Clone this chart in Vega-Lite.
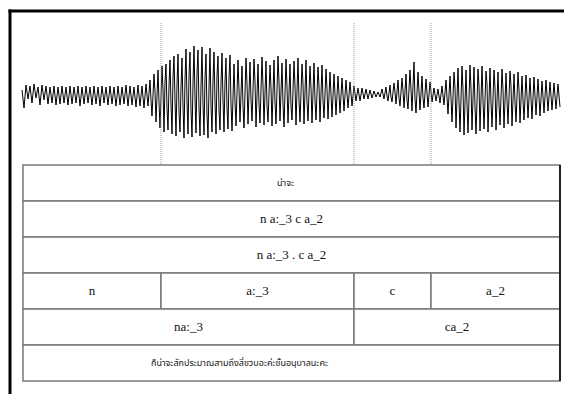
{
  "$schema": "https://vega.github.io/schema/vega-lite/v6.json",
  "width": 564,
  "height": 394,
  "autosize": {"type": "none"},
  "padding": 0,
  "background": "white",
  "config": {"view": {"stroke": null}},
  "datasets": {
    "wave": [
      {"t":-1,"amp":4},{"t":1,"amp":-14},{"t":3,"amp":9},{"t":5,"amp":-5},{"t":7,"amp":8},{"t":9,"amp":-9},{"t":11,"amp":10},{"t":13,"amp":-4},{"t":15,"amp":7},{"t":17,"amp":-11},
      {"t":19,"amp":9},{"t":21,"amp":-6},{"t":23,"amp":8},{"t":25,"amp":-10},{"t":27,"amp":7},{"t":29,"amp":-9},{"t":31,"amp":8},{"t":33,"amp":-11},{"t":35,"amp":7},{"t":37,"amp":-10},
      {"t":39,"amp":8},{"t":41,"amp":-9},{"t":43,"amp":7},{"t":45,"amp":-11},{"t":47,"amp":8},{"t":49,"amp":-10},{"t":51,"amp":7},{"t":53,"amp":-9},{"t":55,"amp":8},{"t":57,"amp":-12},
      {"t":59,"amp":7},{"t":61,"amp":-10},{"t":63,"amp":8},{"t":65,"amp":-9},{"t":67,"amp":7},{"t":69,"amp":-11},{"t":71,"amp":8},{"t":73,"amp":-10},{"t":75,"amp":7},{"t":77,"amp":-12},
      {"t":79,"amp":8},{"t":81,"amp":-9},{"t":83,"amp":7},{"t":85,"amp":-11},{"t":87,"amp":8},{"t":89,"amp":-10},{"t":91,"amp":7},{"t":93,"amp":-12},{"t":95,"amp":8},{"t":97,"amp":-11},
      {"t":99,"amp":7},{"t":101,"amp":-10},{"t":103,"amp":9},{"t":105,"amp":-12},{"t":107,"amp":8},{"t":109,"amp":-11},{"t":111,"amp":7},{"t":113,"amp":-13},{"t":115,"amp":9},{"t":117,"amp":-12},
      {"t":119,"amp":8},{"t":121,"amp":-14},{"t":123,"amp":10},{"t":125,"amp":-12},
      {"t":127,"amp":14},{"t":128,"amp":-6},{"t":129,"amp":-22},{"t":131,"amp":20},{"t":132,"amp":2},{"t":133,"amp":-28},{"t":135,"amp":24},{"t":136,"amp":-8},{"t":137,"amp":-34},
      {"t":139,"amp":28},{"t":140,"amp":4},{"t":141,"amp":-38},{"t":142,"amp":12},{"t":143,"amp":30},{"t":144,"amp":-14},{"t":145,"amp":-36},{"t":146,"amp":8},{"t":147,"amp":34},{"t":148,"amp":-10},{"t":149,"amp":-40},{"t":150,"amp":16},{"t":151,"amp":38},{"t":152,"amp":-6},{"t":153,"amp":-42},{"t":154,"amp":10},{"t":155,"amp":40},{"t":156,"amp":-18},{"t":157,"amp":-38},{"t":158,"amp":6},
      {"t":159,"amp":36},{"t":160,"amp":-12},{"t":161,"amp":-44},{"t":162,"amp":14},{"t":163,"amp":45},{"t":164,"amp":-8},{"t":165,"amp":-40},{"t":166,"amp":18},{"t":167,"amp":42},{"t":168,"amp":-16},{"t":169,"amp":-43},{"t":170,"amp":10},{"t":171,"amp":48},{"t":172,"amp":-4},{"t":173,"amp":-39},{"t":174,"amp":20},{"t":175,"amp":44},{"t":176,"amp":-14},{"t":177,"amp":-42},{"t":178,"amp":8},
      {"t":179,"amp":47},{"t":180,"amp":-10},{"t":181,"amp":-41},{"t":182,"amp":16},{"t":183,"amp":40},{"t":184,"amp":-20},{"t":185,"amp":-44},{"t":186,"amp":6},{"t":187,"amp":46},{"t":188,"amp":-12},{"t":189,"amp":-38},{"t":190,"amp":14},{"t":191,"amp":42},{"t":192,"amp":-8},{"t":193,"amp":-40},{"t":194,"amp":18},{"t":195,"amp":38},{"t":196,"amp":-16},{"t":197,"amp":-36},{"t":198,"amp":10},
      {"t":199,"amp":41},{"t":200,"amp":-6},{"t":201,"amp":-38},{"t":202,"amp":12},{"t":203,"amp":36},{"t":204,"amp":-14},{"t":205,"amp":-35},{"t":206,"amp":16},{"t":207,"amp":39},{"t":208,"amp":-10},{"t":209,"amp":-37},
      {"t":211,"amp":30},{"t":212,"amp":-8},{"t":213,"amp":-32},{"t":215,"amp":34},{"t":216,"amp":4},{"t":217,"amp":-28},{"t":219,"amp":28},{"t":220,"amp":-12},{"t":221,"amp":-34},{"t":223,"amp":36},{"t":224,"amp":10},{"t":225,"amp":-30},{"t":227,"amp":32},{"t":228,"amp":-6},{"t":229,"amp":-27},
      {"t":231,"amp":35},{"t":232,"amp":12},{"t":233,"amp":-33},{"t":235,"amp":30},{"t":236,"amp":-10},{"t":237,"amp":-29},{"t":239,"amp":37},{"t":240,"amp":8},{"t":241,"amp":-31},{"t":243,"amp":33},{"t":244,"amp":-12},{"t":245,"amp":-28},{"t":247,"amp":29},{"t":248,"amp":6},{"t":249,"amp":-32},
      {"t":251,"amp":34},{"t":252,"amp":-8},{"t":253,"amp":-30},{"t":255,"amp":38},{"t":256,"amp":12},{"t":257,"amp":-27},{"t":259,"amp":31},{"t":260,"amp":-10},{"t":261,"amp":-33},{"t":263,"amp":35},{"t":264,"amp":6},{"t":265,"amp":-29},{"t":267,"amp":30},{"t":268,"amp":-12},{"t":269,"amp":-26},
      {"t":271,"amp":33},{"t":272,"amp":8},{"t":273,"amp":-31},{"t":275,"amp":36},{"t":276,"amp":-6},{"t":277,"amp":-28},{"t":279,"amp":30},{"t":280,"amp":10},{"t":281,"amp":-30},{"t":283,"amp":34},{"t":284,"amp":-8},{"t":285,"amp":-27},{"t":287,"amp":28},{"t":288,"amp":6},{"t":289,"amp":-29},
      {"t":291,"amp":31},{"t":292,"amp":-6},{"t":293,"amp":-26},{"t":295,"amp":27},{"t":296,"amp":8},{"t":297,"amp":-28},{"t":299,"amp":29},{"t":300,"amp":-6},{"t":301,"amp":-24},{"t":303,"amp":25},{"t":304,"amp":4},{"t":305,"amp":-25},{"t":307,"amp":22},{"t":309,"amp":-23},
      {"t":311,"amp":20},{"t":313,"amp":-21},{"t":315,"amp":18},{"t":317,"amp":-19},{"t":319,"amp":16},{"t":321,"amp":-17},{"t":323,"amp":14},{"t":325,"amp":-14},{"t":327,"amp":12},{"t":329,"amp":-12},
      {"t":331,"amp":8},{"t":333,"amp":-7},{"t":335,"amp":6},{"t":337,"amp":-7},{"t":339,"amp":6},{"t":341,"amp":-5},{"t":343,"amp":5},{"t":345,"amp":-5},{"t":347,"amp":4},{"t":349,"amp":-4},{"t":351,"amp":3},{"t":353,"amp":-3},{"t":355,"amp":2},
      {"t":357,"amp":-3},{"t":359,"amp":5},{"t":361,"amp":-5},{"t":363,"amp":7},{"t":364,"amp":-2},{"t":365,"amp":-7},{"t":367,"amp":9},{"t":368,"amp":-3},{"t":369,"amp":-8},{"t":371,"amp":11},{"t":372,"amp":2},{"t":373,"amp":-10},{"t":375,"amp":14},
      {"t":376,"amp":-4},{"t":377,"amp":-12},{"t":379,"amp":16},{"t":380,"amp":3},{"t":381,"amp":-14},{"t":383,"amp":20},{"t":384,"amp":-6},{"t":385,"amp":-15},{"t":387,"amp":24},{"t":388,"amp":4},{"t":389,"amp":-17},{"t":391,"amp":32},{"t":392,"amp":-5},{"t":393,"amp":-19},{"t":395,"amp":22},
      {"t":396,"amp":2},{"t":397,"amp":-16},{"t":399,"amp":18},{"t":400,"amp":-4},{"t":401,"amp":-14},{"t":403,"amp":15},{"t":405,"amp":-13},{"t":407,"amp":12},
      {"t":409,"amp":-8},{"t":411,"amp":6},{"t":413,"amp":-7},{"t":415,"amp":5},{"t":417,"amp":-9},{"t":419,"amp":8},{"t":421,"amp":-11},
      {"t":423,"amp":14},{"t":425,"amp":-20},{"t":427,"amp":18},{"t":428,"amp":-4},{"t":429,"amp":-28},{"t":431,"amp":22},{"t":432,"amp":6},{"t":433,"amp":-34},{"t":435,"amp":26},{"t":436,"amp":-8},{"t":437,"amp":-38},{"t":439,"amp":28},{"t":440,"amp":4},{"t":441,"amp":-41},
      {"t":443,"amp":24},{"t":444,"amp":-10},{"t":445,"amp":-39},{"t":447,"amp":29},{"t":448,"amp":6},{"t":449,"amp":-36},{"t":451,"amp":27},{"t":452,"amp":-12},{"t":453,"amp":-40},{"t":455,"amp":25},{"t":456,"amp":8},{"t":457,"amp":-37},{"t":459,"amp":28},{"t":460,"amp":-6},{"t":461,"amp":-35},
      {"t":463,"amp":23},{"t":464,"amp":10},{"t":465,"amp":-38},{"t":467,"amp":26},{"t":468,"amp":-8},{"t":469,"amp":-33},{"t":471,"amp":24},{"t":472,"amp":6},{"t":473,"amp":-36},{"t":475,"amp":22},{"t":476,"amp":-10},{"t":477,"amp":-31},{"t":479,"amp":25},{"t":480,"amp":4},{"t":481,"amp":-34},
      {"t":483,"amp":21},{"t":484,"amp":-6},{"t":485,"amp":-30},{"t":487,"amp":23},{"t":488,"amp":8},{"t":489,"amp":-32},{"t":491,"amp":20},{"t":492,"amp":-8},{"t":493,"amp":-28},{"t":495,"amp":22},{"t":496,"amp":4},{"t":497,"amp":-29},{"t":499,"amp":18},{"t":500,"amp":-6},{"t":501,"amp":-26},
      {"t":503,"amp":19},{"t":505,"amp":-24},{"t":507,"amp":16},{"t":509,"amp":-25},{"t":511,"amp":17},{"t":513,"amp":-21},{"t":515,"amp":15},{"t":517,"amp":-22},{"t":519,"amp":13},{"t":521,"amp":-19},
      {"t":523,"amp":14},{"t":525,"amp":-17},{"t":527,"amp":12},{"t":529,"amp":-16},{"t":531,"amp":11},{"t":533,"amp":-15},{"t":535,"amp":10},{"t":537,"amp":-13}
    ],
    "cells": [
      {"tier": 1, "start": 0, "end": 537, "label": "น่าจะ"},
      {"tier": 2, "start": 0, "end": 537, "label": "n a:_3 c a_2"},
      {"tier": 3, "start": 0, "end": 537, "label": "n a:_3 . c a_2"},
      {"tier": 4, "start": 0, "end": 138, "label": "n"},
      {"tier": 4, "start": 138, "end": 331, "label": "a:_3"},
      {"tier": 4, "start": 331, "end": 408, "label": "c"},
      {"tier": 4, "start": 408, "end": 537, "label": "a_2"},
      {"tier": 5, "start": 0, "end": 331, "label": "na:_3"},
      {"tier": 5, "start": 331, "end": 537, "label": "ca_2"},
      {"tier": 6, "start": 0, "end": 537, "label": "ก็น่าจะสักประมาณสามถึงสี่ขวบอะค่ะขั้นอนุบาลนะคะ"}
    ],
    "bounds": [{"t": 138}, {"t": 331}, {"t": 408}],
    "frame": [{"left": -13, "right": 545, "top": -4.2778, "bottom": 6.4}]
  },
  "resolve": {"scale": {"y": "independent"}},
  "layer": [
    {
      "data": {"name": "wave"},
      "mark": {"type": "line", "color": "#000000", "strokeWidth": 1, "interpolate": "linear"},
      "encoding": {
        "x": {"field": "t", "type": "quantitative", "scale": {"domain": [-23, 541], "nice": false, "zero": false}, "axis": null},
        "y": {"field": "amp", "type": "quantitative", "scale": {"domain": [-300, 94], "nice": false, "zero": false}, "axis": null}
      }
    },
    {
      "layer": [
        {
          "data": {"name": "bounds"},
          "mark": {"type": "rule", "color": "#9a9a9a", "strokeWidth": 1, "strokeDash": [1, 1]},
          "encoding": {
            "x": {"field": "t", "type": "quantitative", "scale": {"domain": [-23, 541], "nice": false, "zero": false}, "axis": null},
            "y": {"datum": -3.944, "type": "quantitative", "scale": {"domain": [-4.5833, 6.3611], "nice": false, "zero": false, "reverse": true}, "axis": null},
            "y2": {"datum": 0}
          }
        },
        {
          "data": {"name": "cells"},
          "transform": [{"calculate": "datum.tier - 1", "as": "top"}],
          "mark": {"type": "rect", "fill": "#ffffff", "stroke": "#7a7a7a", "strokeWidth": 1.5},
          "encoding": {
            "x": {"field": "start", "type": "quantitative", "scale": {"domain": [-23, 541], "nice": false, "zero": false}, "axis": null},
            "x2": {"field": "end"},
            "y": {"field": "top", "type": "quantitative", "scale": {"domain": [-4.5833, 6.3611], "nice": false, "zero": false, "reverse": true}, "axis": null},
            "y2": {"field": "tier"}
          }
        },
        {
          "data": {"values": [{"edge": 537}]},
          "mark": {"type": "rule", "color": "#222222", "strokeWidth": 2},
          "encoding": {
            "x": {"field": "edge", "type": "quantitative", "scale": {"domain": [-23, 541], "nice": false, "zero": false}, "axis": null},
            "y": {"datum": 0, "type": "quantitative", "scale": {"domain": [-4.5833, 6.3611], "nice": false, "zero": false, "reverse": true}, "axis": null},
            "y2": {"datum": 6}
          }
        },
        {
          "data": {"name": "cells"},
          "transform": [
            {"filter": "datum.tier >= 2 && datum.tier <= 5"},
            {"calculate": "(datum.start + datum.end) / 2", "as": "mid"},
            {"calculate": "datum.tier - 0.5", "as": "row"}
          ],
          "mark": {"type": "text", "font": "Liberation Serif, Times New Roman, serif", "fontSize": 13, "color": "#111111", "align": "center", "baseline": "middle"},
          "encoding": {
            "x": {"field": "mid", "type": "quantitative", "scale": {"domain": [-23, 541], "nice": false, "zero": false}, "axis": null},
            "y": {"field": "row", "type": "quantitative", "scale": {"domain": [-4.5833, 6.3611], "nice": false, "zero": false, "reverse": true}, "axis": null},
            "text": {"field": "label"}
          }
        },
        {
          "data": {"name": "cells"},
          "transform": [
            {"filter": "datum.tier == 1"},
            {"calculate": "(datum.start + datum.end) / 2", "as": "mid"},
            {"calculate": "datum.tier - 0.5", "as": "row"}
          ],
          "mark": {"type": "text", "font": "Tahoma, Noto Sans Thai, Loma, Garuda, DejaVu Sans, sans-serif", "fontSize": 9, "color": "#111111", "align": "center", "baseline": "middle", "dx": -6},
          "encoding": {
            "x": {"field": "mid", "type": "quantitative", "scale": {"domain": [-23, 541], "nice": false, "zero": false}, "axis": null},
            "y": {"field": "row", "type": "quantitative", "scale": {"domain": [-4.5833, 6.3611], "nice": false, "zero": false, "reverse": true}, "axis": null},
            "text": {"field": "label"}
          }
        },
        {
          "data": {"name": "cells"},
          "transform": [
            {"filter": "datum.tier == 6"},
            {"calculate": "(datum.start + datum.end) / 2", "as": "mid"},
            {"calculate": "datum.tier - 0.5", "as": "row"}
          ],
          "mark": {"type": "text", "font": "Tahoma, Noto Sans Thai, Loma, Garuda, DejaVu Sans, sans-serif", "fontSize": 9, "color": "#111111", "align": "center", "baseline": "middle", "dx": -52},
          "encoding": {
            "x": {"field": "mid", "type": "quantitative", "scale": {"domain": [-23, 541], "nice": false, "zero": false}, "axis": null},
            "y": {"field": "row", "type": "quantitative", "scale": {"domain": [-4.5833, 6.3611], "nice": false, "zero": false, "reverse": true}, "axis": null},
            "text": {"field": "label"}
          }
        },
        {
          "data": {"name": "frame"},
          "mark": {"type": "rule", "stroke": "#000000", "strokeWidth": 3, "strokeCap": "square"},
          "encoding": {
            "x": {"field": "left", "type": "quantitative", "scale": {"domain": [-23, 541], "nice": false, "zero": false}, "axis": null},
            "x2": {"field": "right"},
            "y": {"field": "top", "type": "quantitative", "scale": {"domain": [-4.5833, 6.3611], "nice": false, "zero": false, "reverse": true}, "axis": null}
          }
        },
        {
          "data": {"name": "frame"},
          "mark": {"type": "rule", "stroke": "#000000", "strokeWidth": 3, "strokeCap": "square"},
          "encoding": {
            "x": {"field": "left", "type": "quantitative", "scale": {"domain": [-23, 541], "nice": false, "zero": false}, "axis": null},
            "y": {"field": "top", "type": "quantitative", "scale": {"domain": [-4.5833, 6.3611], "nice": false, "zero": false, "reverse": true}, "axis": null},
            "y2": {"field": "bottom"}
          }
        }
      ]
    }
  ]
}
